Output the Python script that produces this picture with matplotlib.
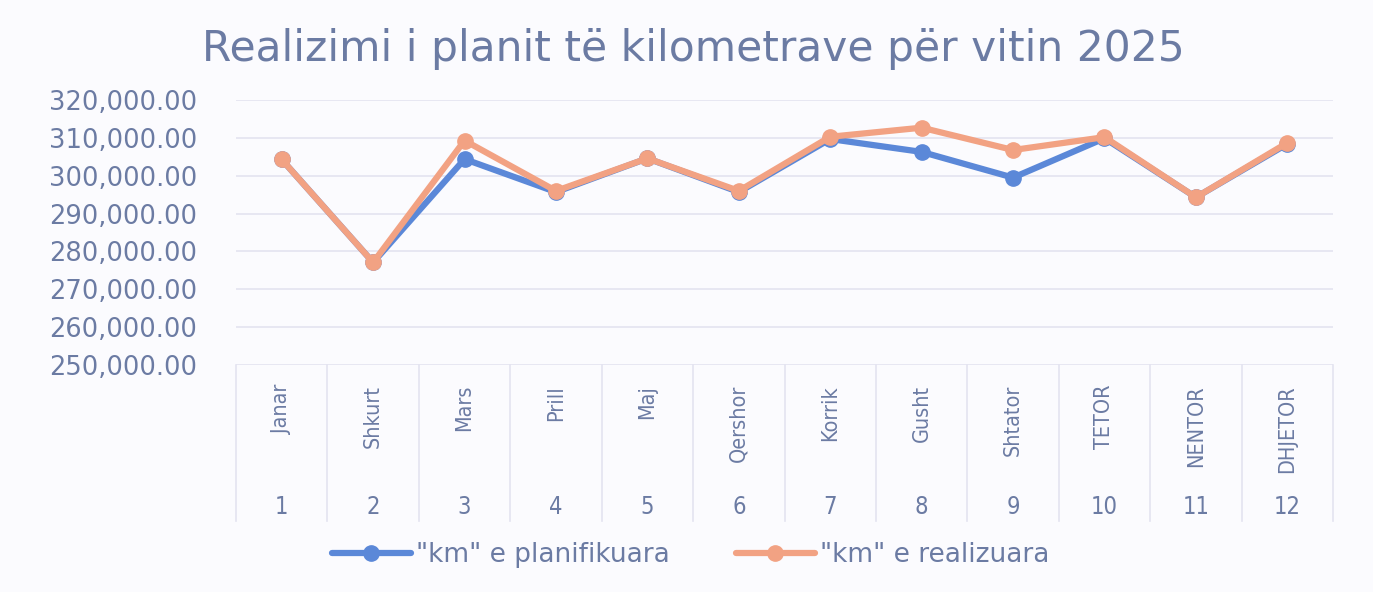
import matplotlib.pyplot as plt
import matplotlib.transforms as mtransforms
from matplotlib.ticker import FuncFormatter

months = ['Janar', 'Shkurt', 'Mars', 'Prill', 'Maj', 'Qershor', 'Korrik',
          'Gusht', 'Shtator', 'TETOR', 'NENTOR', 'DHJETOR']
month_nums = list(range(1, 13))
planned = [304300, 277100, 304400, 295700, 304600, 295700,
           309700, 306300, 299500, 309900, 294300, 308400]
realized = [304300, 277100, 309300, 296000, 304600, 296000,
            310300, 312700, 306800, 310200, 294300, 308700]

TXT = '#6b7ba3'
BLUE = '#5b88d8'
ORANGE = '#f2a283'
BG = '#fbfbfe'
GRID = '#e3e3f0'


def main():
    fig = plt.figure(figsize=(13.73, 5.92), dpi=100, facecolor=BG)
    ax = fig.add_axes([0.1719, 0.3834, 0.799, 0.4476], facecolor=BG)

    ax.plot(month_nums, planned, color=BLUE, lw=4.5, marker='o', ms=11,
            label='"km" e planifikuara', solid_capstyle='round')
    ax.plot(month_nums, realized, color=ORANGE, lw=4.5, marker='o', ms=11,
            label='"km" e realizuara', solid_capstyle='round')

    ax.set_xlim(0.5, 12.5)
    ax.set_ylim(250000, 320000)
    ax.set_yticks(range(250000, 320001, 10000))
    ax.yaxis.set_major_formatter(FuncFormatter(lambda v, p: f'{v:,.2f}'))
    ax.tick_params(axis='y', length=0, pad=28, labelsize=18.5, labelcolor=TXT)
    ax.set_xticks([])
    ax.grid(axis='y', color=GRID, lw=1.2)
    ax.set_axisbelow(True)
    for s in ax.spines.values():
        s.set_visible(False)

    # two level category axis
    trans = mtransforms.blended_transform_factory(ax.transData, ax.transAxes)
    for b in [x + 0.5 for x in range(0, 13)]:
        ax.plot([b, b], [0, -0.59], color=GRID, lw=1.2, transform=trans,
                clip_on=False)
    for x, m in zip(month_nums, months):
        ax.text(x, -0.075, m, transform=trans, rotation=90, ha='center',
                va='top', fontsize=15.5, color=TXT, stretch='condensed',
                family='DejaVu Sans')
        ax.text(x, -0.535, str(x), transform=trans, ha='center',
                va='center', fontsize=17, color=TXT, stretch='condensed',
                family='DejaVu Sans')

    fig.text(0.505, 0.918, 'Realizimi i planit të kilometrave për vitin 2025',
             ha='center', va='center', fontsize=30.5, color=TXT)

    fig.legend(loc='center', bbox_to_anchor=(0.503, 0.062), ncol=2,
               frameon=False, fontsize=19, handlelength=3.0,
               columnspacing=2.5, handletextpad=0.2, labelcolor=TXT)

    fig.savefig('out.png', dpi=100, facecolor=BG)


if __name__ == '__main__':
    main()
